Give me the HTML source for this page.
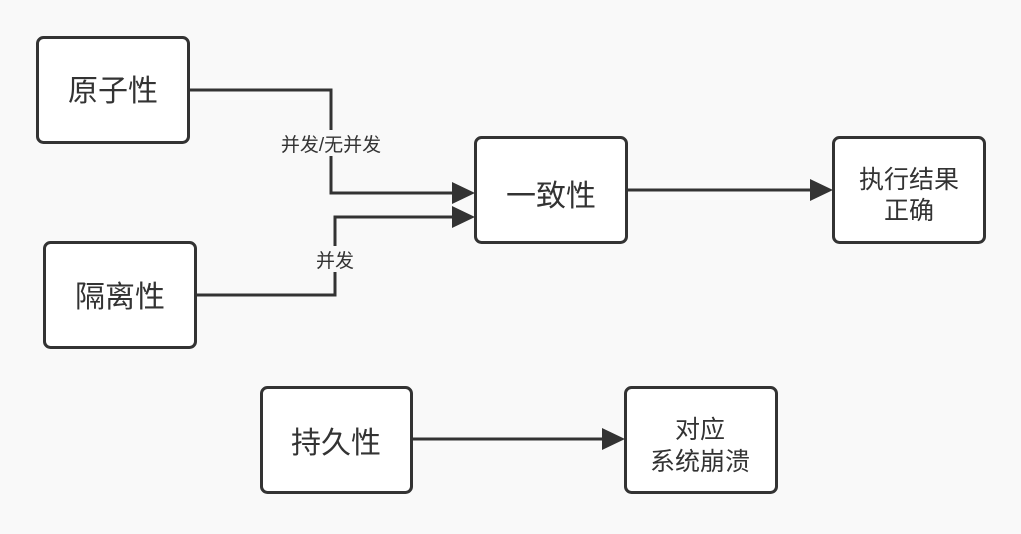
<!DOCTYPE html>
<html><head><meta charset="utf-8"><style>
html,body{margin:0;padding:0;background:#f9f9f9;}
svg text{font-family:"Liberation Sans","Noto Sans CJK SC",sans-serif;fill:#333;}
</style></head><body>
<svg width="1021" height="529" viewBox="0 0 1021 529" xmlns="http://www.w3.org/2000/svg">
<rect width="1021" height="529" fill="#f9f9f9"/>
<g fill="#fff" stroke="#333" stroke-width="3">
<rect x="37.5" y="37.5" width="151" height="105" rx="6"/>
<rect x="44.5" y="242.5" width="151" height="105" rx="6"/>
<rect x="475.5" y="137.5" width="151" height="105" rx="6"/>
<rect x="833.5" y="137.5" width="151" height="105" rx="6"/>
<rect x="261.5" y="387.5" width="150" height="105" rx="6"/>
<rect x="625.5" y="387.5" width="151" height="105" rx="6"/>
</g>
<g fill="none" stroke="#333" stroke-width="3">
<polyline points="188,90 331,90 331,193 455,193"/>
<polyline points="195,295 335,295 335,217 455,217"/>
<line x1="626" y1="190" x2="813" y2="190"/>
<line x1="411" y1="439" x2="605" y2="439"/>
</g>
<g fill="#333">
<polygon points="475,193 452,182 452,204"/>
<polygon points="475,217 452,206 452,228"/>
<polygon points="833,190 810,179 810,201"/>
<polygon points="625,439 602,428 602,450"/>
</g>
<rect x="278" y="130" width="107" height="26" fill="#f9f9f9"/>
<rect x="314" y="246" width="42" height="26" fill="#f9f9f9"/>
<text x="331" y="151" font-size="19" text-anchor="middle">并发/无并发</text>
<text x="335" y="267" font-size="19" text-anchor="middle">并发</text>
<g font-size="30" text-anchor="middle">
<text x="113" y="101">原子性</text>
<text x="120" y="307">隔离性</text>
<text x="551" y="206">一致性</text>
<text x="336" y="453">持久性</text>
</g>
<g font-size="25" text-anchor="middle">
<text x="909" y="188">执行结果</text>
<text x="909" y="219">正确</text>
<text x="700" y="438">对应</text>
<text x="700" y="470">系统崩溃</text>
</g>
</svg>
</body></html>
